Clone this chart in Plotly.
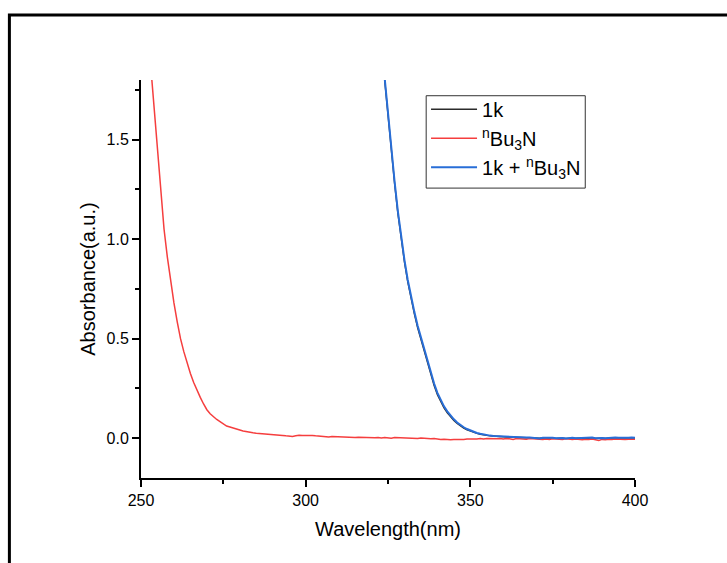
import plotly.graph_objects as go

# Wavelength grids (nm)
wl_amine = list(range(253, 401))
wl_1k = list(range(323, 401))

# nBu3N absorbance, 253-400 nm
abs_amine = [
    1.86, 1.66, 1.43, 1.22, 1.05, 0.91, 0.79, 0.68, 0.585, 0.50,
    0.435, 0.375, 0.325, 0.28, 0.24, 0.205, 0.172, 0.143, 0.123, 0.108,
    0.094, 0.083, 0.072, 0.061, 0.056, 0.052, 0.047, 0.041, 0.036, 0.032,
    0.029, 0.027, 0.025, 0.024, 0.022, 0.021, 0.020, 0.020, 0.019, 0.016,
    0.014, 0.012, 0.011, 0.009, 0.012, 0.015, 0.014, 0.015, 0.013, 0.014,
    0.012, 0.010, 0.011, 0.008, 0.006, 0.009, 0.008, 0.006, 0.007, 0.004,
    0.006, 0.005, 0.003, 0.005, 0.004, 0.002, 0.004, 0.003, 0.002, 0.004,
    0.001, 0.003, 0.002, 0.000, 0.003, 0.002, 0.001, 0.003, -0.001, 0.001,
    0.000, -0.002, 0.001, -0.001, 0.000, -0.003, -0.001, -0.004, -0.006, -0.005,
    -0.007, -0.008, -0.006, -0.007, -0.005, -0.006, -0.004, -0.005, -0.003, -0.004,
    -0.002, -0.004, -0.002, -0.003, -0.001, -0.003, -0.002, -0.004, -0.001, -0.003,
    -0.006, -0.002, -0.004, -0.003, -0.005, -0.002, -0.004, -0.003, -0.005, -0.007,
    -0.004, -0.006, -0.003, -0.005, -0.004, -0.006, -0.003, -0.005, -0.007, -0.004,
    -0.006, -0.008, -0.005, -0.007, -0.004, -0.009, -0.012, -0.006, -0.008, -0.005,
    -0.007, -0.004, -0.006, -0.005, -0.007, -0.005, -0.006, -0.005,
]

# 1k absorbance, 323-400 nm
abs_1k = [
    1.97, 1.79, 1.60, 1.44, 1.28, 1.13, 1.00, 0.885, 0.785, 0.70,
    0.625, 0.555, 0.495, 0.435, 0.375, 0.32, 0.265, 0.219, 0.181, 0.152,
    0.128, 0.108, 0.089, 0.074, 0.061, 0.051, 0.042, 0.035, 0.029, 0.024,
    0.020, 0.016, 0.014, 0.012, 0.010, 0.009, 0.008, 0.007, 0.006, 0.005,
    0.005, 0.004, 0.003, 0.004, 0.002, 0.003, 0.001, 0.002, 0.000, 0.001,
    0.002, 0.000, 0.001, -0.001, 0.001, 0.000, -0.001, 0.000, 0.001, -0.001,
    0.000, -0.002, 0.001, 0.000, 0.002, -0.001, 0.001, 0.000, -0.001, 0.001,
    0.000, 0.002, 0.001, 0.000, 0.002, 0.001, 0.002, 0.001,
]

# 1k + nBu3N absorbance, 323-400 nm
abs_mix = [
    1.98, 1.80, 1.61, 1.45, 1.29, 1.14, 1.01, 0.895, 0.795, 0.71,
    0.635, 0.565, 0.505, 0.445, 0.385, 0.33, 0.275, 0.228, 0.19, 0.16,
    0.135, 0.114, 0.095, 0.079, 0.066, 0.055, 0.046, 0.038, 0.032, 0.026,
    0.022, 0.018, 0.015, 0.013, 0.011, 0.010, 0.009, 0.008, 0.007, 0.006,
    0.006, 0.005, 0.004, 0.005, 0.003, 0.004, 0.002, 0.003, -0.001, 0.002,
    0.003, 0.001, 0.002, 0.000, 0.002, 0.001, -0.002, 0.001, 0.002, 0.000,
    0.001, -0.001, 0.002, 0.001, 0.003, 0.000, 0.002, 0.001, 0.000, 0.002,
    0.001, 0.003, 0.002, 0.001, 0.003, 0.002, 0.003, 0.002,
]

x_ticks = [250, 300, 350, 400]
y_ticks = [0.0, 0.5, 1.0, 1.5]

FONT = "Arial, 'Liberation Sans', sans-serif"

fig = go.Figure()
fig.add_trace(go.Scatter(x=wl_1k, y=abs_1k, mode="lines", name="1k",
                         line=dict(color="#2b2b2b", width=1.4)))
fig.add_trace(go.Scatter(x=wl_amine, y=abs_amine, mode="lines",
                         name="<sup>n</sup>Bu<sub>3</sub>N",
                         line=dict(color="rgb(245,62,62)", width=1.5)))
fig.add_trace(go.Scatter(x=wl_1k, y=abs_mix, mode="lines",
                         name="1k + <sup>n</sup>Bu<sub>3</sub>N",
                         line=dict(color="rgb(40,110,215)", width=2)))

axis_common = dict(
    showline=True, linecolor="black", linewidth=2,
    ticks="outside", ticklen=7, tickwidth=1.5, tickcolor="black",
    showgrid=False, zeroline=False, mirror=False,
    tickfont=dict(family=FONT, size=16, color="black"),
    minor=dict(ticks="outside", ticklen=4, tickwidth=1.5, tickcolor="black", showgrid=False),
)

fig.update_xaxes(
    range=[250, 400], tickvals=x_ticks, ticktext=[str(v) for v in x_ticks],
    minor_dtick=25,
    title=dict(text="Wavelength(nm)", font=dict(family=FONT, size=20, color="black"), standoff=14),
    **axis_common,
)
fig.update_yaxes(
    range=[-0.2, 1.8], tickvals=y_ticks, ticktext=[f"{v:.1f}" for v in y_ticks],
    minor_dtick=0.25, minor_tick0=0,
    title=dict(text="Absorbance(a.u.)", font=dict(family=FONT, size=20, color="black"), standoff=6),
    **axis_common,
)

# Outer frame around the figure (extends past the right and bottom edges)
fig.add_shape(type="rect", xref="paper", yref="paper",
              x0=-0.2664, x1=1.3, y0=-0.3, y1=1.1634,
              line=dict(color="black", width=3), fillcolor="rgba(0,0,0,0)", layer="below")

# Legend box
fig.add_shape(type="rect", xref="paper", yref="paper",
              x0=0.5773, x1=0.8993, y0=0.7284, y1=0.9605,
              line=dict(color="#333333", width=1), fillcolor="white", layer="below")

fig.update_layout(
    width=727, height=563,
    margin=dict(l=141, r=92, t=80, b=85, autoexpand=False),
    paper_bgcolor="white", plot_bgcolor="rgba(0,0,0,0)",
    font=dict(family=FONT, color="black"),
    showlegend=True,
    legend=dict(
        x=0.577, y=0.9756, xanchor="left", yanchor="top",
        bgcolor="rgba(0,0,0,0)", borderwidth=0,
        font=dict(family=FONT, size=20, color="black"),
        itemwidth=46, tracegroupgap=0,
    ),
)

fig.write_html("out.html")
